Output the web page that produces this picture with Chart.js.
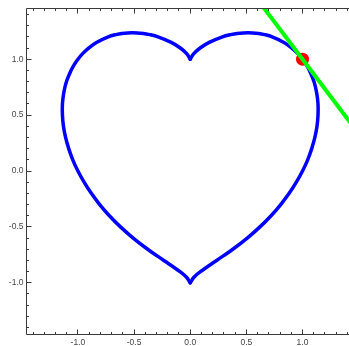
<!DOCTYPE html>
<html>
<head>
<meta charset="utf-8">
<script src="https://cdn.jsdelivr.net/npm/chart.js@4"></script>
<style>
  html, body { margin: 0; padding: 0; background: #fff; overflow: hidden; }
  #wrap { width: 349px; height: 346px; }
</style>
</head>
<body>
<div id="wrap"><canvas id="heartChart" width="349" height="346"></canvas></div>
<script>
// DATA
// right half of the heart, top cusp -> bottom tip
const heartRightX = [0, 0.032, 0.088, 0.169, 0.287, 0.361, 0.418, 0.515, 0.609, 0.662, 0.730, 0.835, 0.905, 0.958,
  1.0, 1.034, 1.061, 1.102, 1.126, 1.138, 1.138, 1.129, 1.110, 1.082, 1.046, 1.0,
  0.945, 0.881, 0.806, 0.720, 0.621, 0.508, 0.379, 0.235, 0.091, 0.033, 0];
const heartRightY = [1.0, 1.05, 1.1, 1.15, 1.2, 1.22, 1.23, 1.236, 1.23, 1.22, 1.2, 1.15, 1.1, 1.05,
  1.0, 0.95, 0.9, 0.8, 0.7, 0.6, 0.5, 0.4, 0.3, 0.2, 0.1, 0,
  -0.1, -0.2, -0.3, -0.4, -0.5, -0.6, -0.7, -0.8, -0.9, -0.95, -1.0];
// left half of the heart, top cusp -> bottom tip
const heartLeftX = [0, -0.032, -0.088, -0.169, -0.287, -0.361, -0.418, -0.515, -0.609, -0.662, -0.730, -0.835, -0.905, -0.958,
  -1.0, -1.034, -1.061, -1.102, -1.126, -1.138, -1.138, -1.129, -1.110, -1.082, -1.046, -1.0,
  -0.945, -0.881, -0.806, -0.720, -0.621, -0.508, -0.379, -0.235, -0.091, -0.033, 0];
const heartLeftY = [1.0, 1.05, 1.1, 1.15, 1.2, 1.22, 1.23, 1.236, 1.23, 1.22, 1.2, 1.15, 1.1, 1.05,
  1.0, 0.95, 0.9, 0.8, 0.7, 0.6, 0.5, 0.4, 0.3, 0.2, 0.1, 0,
  -0.1, -0.2, -0.3, -0.4, -0.5, -0.6, -0.7, -0.8, -0.9, -0.95, -1.0];

// tangent line at (1, 1)
const tangentX = [0.4, 1.6];
const tangentY = [1.8, 0.2];

// marked point
const pointX = [1.0];
const pointY = [1.0];

// AXES (plot runs off the right edge of the picture)
const xMin = -1.458;
const xMax = 1.414;
const yMin = -1.458;
const yMax = 1.458;
const majorTicks = [-1.0, -0.5, 0.0, 0.5, 1.0];
const tickLabels = ["-1.0", "-0.5", "0.0", "0.5", "1.0"];
const minorTicks = [-1.4, -1.3, -1.2, -1.1, -0.9, -0.8, -0.7, -0.6, -0.4, -0.3, -0.2, -0.1,
  0.1, 0.2, 0.3, 0.4, 0.6, 0.7, 0.8, 0.9, 1.1, 1.2, 1.3, 1.4];

// HELPERS
function toPoints(xs, ys) {
  return xs.map((x, i) => ({ x: x, y: ys[i] }));
}

// frame + inward ticks, Mathematica style
const framePlugin = {
  id: "frame",
  afterDraw(chart) {
    const { ctx, chartArea: a, scales: { x, y } } = chart;
    const snap = v => Math.round(v - 0.5) + 0.5;

    ctx.save();
    ctx.strokeStyle = "#3a3a3a";
    ctx.lineWidth = 1;

    ctx.beginPath();
    ctx.moveTo(a.right + 5, snap(a.top));
    ctx.lineTo(snap(a.left), snap(a.top));
    ctx.lineTo(snap(a.left), snap(a.bottom));
    ctx.lineTo(a.right + 5, snap(a.bottom));
    ctx.stroke();

    const drawTicks = (vals, len) => {
      ctx.beginPath();
      vals.forEach(v => {
        if (v >= xMin && v <= xMax) {
          const px = snap(x.getPixelForValue(v));
          ctx.moveTo(px, snap(a.bottom));
          ctx.lineTo(px, snap(a.bottom) - len);
          ctx.moveTo(px, snap(a.top));
          ctx.lineTo(px, snap(a.top) + len);
        }
        const py = snap(y.getPixelForValue(v));
        ctx.moveTo(snap(a.left), py);
        ctx.lineTo(snap(a.left) + len, py);
      });
      ctx.stroke();
    };
    drawTicks(majorTicks, 5);
    drawTicks(minorTicks, 2.5);

    ctx.fillStyle = "#444";
    ctx.font = "8.5px 'Liberation Sans', Arial, sans-serif";
    ctx.textBaseline = "middle";

    ctx.textAlign = "center";
    majorTicks.forEach((v, i) => {
      ctx.fillText(tickLabels[i], x.getPixelForValue(v), a.bottom + 9);
    });

    ctx.textAlign = "right";
    majorTicks.forEach((v, i) => {
      ctx.fillText(tickLabels[i], a.left - 3, y.getPixelForValue(v));
    });

    ctx.restore();
  }
};

// CHART
const heartChart = new Chart(
  document.getElementById("heartChart"),
  {
    type: "scatter",
    data: {
      datasets: [
        {
          label: "tangent",
          data: toPoints(tangentX, tangentY),
          showLine: true,
          borderColor: "#00ff00",
          borderWidth: 4,
          pointRadius: 0,
          clip: 0,
          order: 0
        },
        {
          label: "point",
          data: toPoints(pointX, pointY),
          backgroundColor: "#ff0000",
          borderWidth: 0,
          pointRadius: 6.5,
          order: 1
        },
        {
          label: "heart right",
          data: toPoints(heartRightX, heartRightY),
          showLine: true,
          borderColor: "#0000ff",
          borderWidth: 3.5,
          borderCapStyle: "round",
          borderJoinStyle: "round",
          tension: 0.35,
          pointRadius: 0,
          clip: 0,
          order: 2
        },
        {
          label: "heart left",
          data: toPoints(heartLeftX, heartLeftY),
          showLine: true,
          borderColor: "#0000ff",
          borderWidth: 3.5,
          borderCapStyle: "round",
          borderJoinStyle: "round",
          tension: 0.35,
          pointRadius: 0,
          clip: 0,
          order: 2
        }
      ]
    },
    options: {
      responsive: false,
      animation: false,
      layout: { autoPadding: false, padding: { left: 26.5, top: 8, right: 0, bottom: 12 } },
      plugins: {
        legend: { display: false },
        tooltip: { enabled: false }
      },
      scales: {
        x: { type: "linear", min: xMin, max: xMax, display: false },
        y: { type: "linear", min: yMin, max: yMax, display: false }
      }
    },
    plugins: [framePlugin]
  }
);
</script>
</body>
</html>
